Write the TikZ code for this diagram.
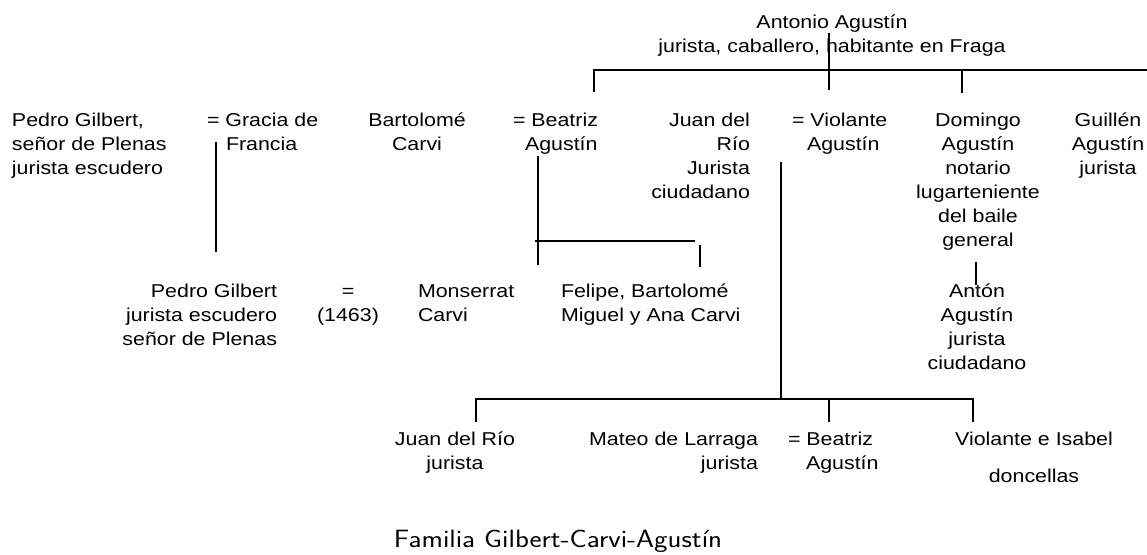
\documentclass[tikz,border=0pt]{standalone}
\usepackage{fontspec}
\usepackage{graphicx}
\setmainfont[FakeStretch=1.15]{Liberation Sans}
\begin{document}
\begin{tikzpicture}[x=1pt,y=-1pt,
  every node/.style={inner sep=0pt,outer sep=0pt,font=\fontsize{18.6}{24}\selectfont},
  lc/.style={anchor=north,align=center},
  ll/.style={anchor=north west,align=left},
  lr/.style={anchor=north east,align=right},
  tree/.style={line width=1.5pt,line cap=butt}]
\useasboundingbox (0,0) rectangle (1147,554);
% generation 1
\node[lc] (antonio) at (832,11.2) {\strut Antonio Agustín\\jurista, caballero, habitante en Fraga};
% generation 2
\node[ll] (pg1) at (12,109.2) {\strut Pedro Gilbert,\\señor de Plenas\\jurista escudero};
\node[ll] (gracia) at (207,109.2) {\strut = Gracia de\\\hspace*{19pt}Francia};
\node[lc] (bartolome) at (417,109.2) {\strut Bartolomé\\Carvi};
\node[ll] (beatriz1) at (513,109.2) {\strut = Beatriz\\\hspace*{12pt}Agustín};
\node[lr] (juan1) at (750,109.2) {\strut Juan del\\Río\\Jurista\\ciudadano};
\node[ll] (violante) at (792,109.2) {\strut = Violante\\\hspace*{15pt}Agustín};
\node[lc] (domingo) at (978,109.2) {\strut Domingo\\Agustín\\notario\\lugarteniente\\del baile\\general};
\node[lc] (guillen) at (1108,109.2) {\strut Guillén\\Agustín\\jurista};
% generation 3
\node[lr] (pg2) at (277,280.2) {\strut Pedro Gilbert\\jurista escudero\\señor de Plenas};
\node[lc] (eq) at (348,280.2) {\strut =\\(1463)};
\node[ll] (monserrat) at (418,280.2) {\strut Monserrat\\Carvi};
\node[ll] (felipe) at (561,280.2) {\strut Felipe, Bartolomé\\Miguel y Ana Carvi};
\node[lc] (anton) at (977,280.2) {\strut Antón\\Agustín\\jurista\\ciudadano};
% generation 3 (Río)
\node[lc] (juan2) at (455,428.2) {\strut Juan del Río\\jurista};
\node[lr] (mateo) at (758,428.2) {\strut Mateo de Larraga\\jurista};
\node[ll] (beatriz2) at (788,428.2) {\strut = Beatriz\\\hspace*{18pt}Agustín};
\node[lc] (violante2) at (1034,428.2) {\strut Violante e Isabel\\[13pt]doncellas};
% caption
\node[anchor=base,font=\fontsize{25}{29}\sffamily] (caption) at (558,547) {\scalebox{1.15}[1]{Familia Gilbert-Carvi-Agustín}};
% line coordinates
\coordinate (a1) at (829,33);   \coordinate (a2) at (829,90);
\coordinate (h1) at (594,70);   \coordinate (h2) at (1147,70);
\coordinate (d1) at (594,92);
\coordinate (d2t) at (962,70);  \coordinate (d2) at (962,93);
\coordinate (g1) at (216,142);  \coordinate (g2) at (216,252);
\coordinate (b1) at (538,156);  \coordinate (b2) at (538,265);
\coordinate (c1) at (535,241);  \coordinate (c2) at (695,241);
\coordinate (c3) at (700,245);  \coordinate (c4) at (700,267);
\coordinate (v1) at (781,162);  \coordinate (v2) at (781,400);
\coordinate (r1) at (476,399);  \coordinate (r2) at (973,399);
\coordinate (r1b) at (476,422);
\coordinate (r3) at (829,399);  \coordinate (r3b) at (829,422);
\coordinate (r2b) at (973,422);
\coordinate (m1) at (976,262);  \coordinate (m2) at (976,285);
% lines
\draw[tree] (a1) -- (a2);
\draw[tree] (d1) -- (h1) -- (h2);
\draw[tree] (d2t) -- (d2);
\draw[tree] (g1) -- (g2);
\draw[tree] (b1) -- (b2);
\draw[tree] (c1) -- (c2);
\draw[tree] (c3) -- (c4);
\draw[tree] (v1) -- (v2);
\draw[tree] (r1b) -- (r1) -- (r2) -- (r2b);
\draw[tree] (r3) -- (r3b);
\draw[tree] (m1) -- (m2);
\end{tikzpicture}
\end{document}
